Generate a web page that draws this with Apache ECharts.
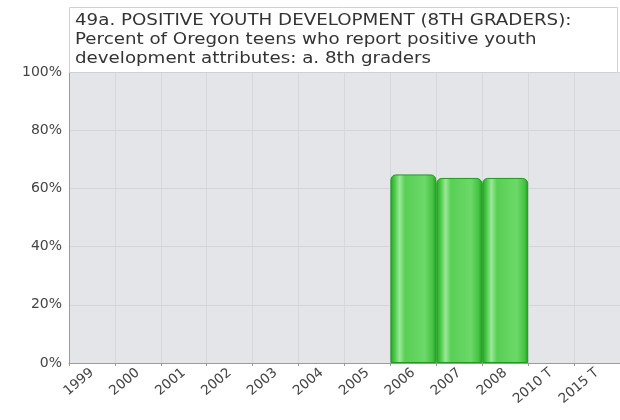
<!DOCTYPE html>
<html>
<head>
<meta charset="utf-8">
<script src="https://cdn.jsdelivr.net/npm/echarts@6/dist/echarts.min.js"></script>
<style>html,body{margin:0;padding:0;background:#fff;}#c{width:620px;height:420px;}</style>
</head>
<body>
<div id="c"></div>
<script>
var categories = ['1999','2000','2001','2002','2003','2004','2005','2006','2007','2008','2010 T','2015 T'];
var values = [null,null,null,null,null,null,null,64.8,63.6,63.6,null,null];
var yTicks = [0,20,40,60,80,100];
var titleLines = [
  '49a. POSITIVE YOUTH DEVELOPMENT (8TH GRADERS):',
  'Percent of Oregon teens who report positive youth',
  'development attributes: a. 8th graders'
];

var chart = echarts.init(document.getElementById('c'), null, {renderer:'canvas'});
var barColor = new echarts.graphic.LinearGradient(0,0,1,0,[
  {offset:0, color:'#22a822'},
  {offset:0.08, color:'#44c442'},
  {offset:0.2, color:'#9ae896'},
  {offset:0.32, color:'#58cf55'},
  {offset:0.75, color:'#6cd968'},
  {offset:0.92, color:'#44c442'},
  {offset:1, color:'#1f9f1f'}
]);
chart.setOption({
  animation:false,
  backgroundColor:'#ffffff',
  grid:{left:69, top:72, width:552, height:291, show:true, backgroundColor:'#e3e5e9', borderWidth:0},
  xAxis:{
    type:'category', data:categories,
    axisLine:{show:true, lineStyle:{color:'#9a9a9a', width:1}},
    axisTick:{show:true, alignWithLabel:false, length:3, lineStyle:{color:'#9a9a9a'}},
    axisLabel:{rotate:40, color:'#444', fontSize:13.5, fontFamily:'DejaVu Sans', margin:8, interval:0},
    splitLine:{show:true, lineStyle:{color:'#d6d8dc', width:1}}
  },
  yAxis:{
    type:'value', min:yTicks[0], max:yTicks[yTicks.length-1], interval:20,
    axisLine:{show:true, lineStyle:{color:'#9a9a9a'}},
    axisTick:{show:false},
    axisLabel:{formatter:'{value}%', color:'#444', fontSize:14, fontFamily:'DejaVu Sans', margin:7},
    splitLine:{show:true, lineStyle:{color:'#d3d5d9', width:1}}
  },
  series:[{
    type:'bar', data:values, barCategoryGap:'0%',
    itemStyle:{color:barColor, borderColor:'#1f9a1f', borderWidth:1, borderRadius:[5,5,0,0]}
  }],
  graphic:[
    {type:'rect', left:69, top:7, shape:{width:548, height:65}, style:{fill:'#ffffff', stroke:'#d0d0d0', lineWidth:1}, z:10},
    {type:'text', x:75, y:11, scaleX:1.14, z:11, style:{text:titleLines.join('\n'), fill:'#333', font:'16px "DejaVu Sans"', lineHeight:19}}
  ]
});
</script>
</body>
</html>
